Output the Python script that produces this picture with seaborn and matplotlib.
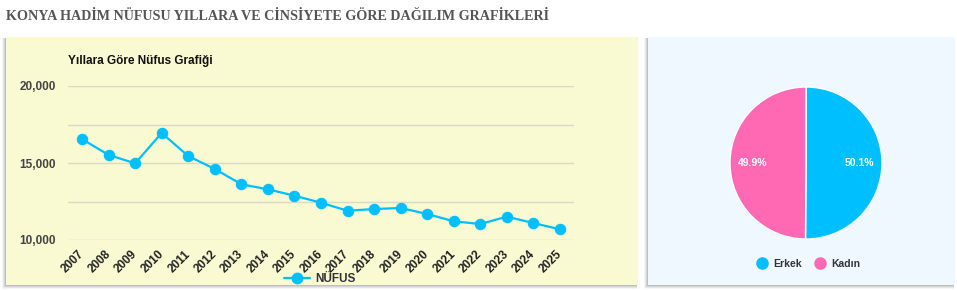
import matplotlib
matplotlib.use("Agg")
import matplotlib.pyplot as plt
import seaborn as sns
import pandas as pd
from matplotlib.patches import Rectangle
from matplotlib.lines import Line2D

years = [2007, 2008, 2009, 2010, 2011, 2012, 2013, 2014, 2015, 2016,
         2017, 2018, 2019, 2020, 2021, 2022, 2023, 2024, 2025]
population = [16550, 15520, 14980, 16950, 15450, 14610, 13620, 13290, 12880, 12420,
              11900, 12010, 12080, 11690, 11215, 11040, 11515, 11100, 10695]
gender_labels = ["Erkek", "Kadın"]
gender_share = [50.1, 49.9]
y_ticks = [10000, 15000, 20000]
y_grid = [10000, 12500, 15000, 17500, 20000]

LINE_C = "#00bfff"
PINK = "#ff69b4"
W, H = 957, 291

sns.set_theme(style="white")
plt.rcParams['font.family'] = ['Liberation Sans', 'DejaVu Sans']

fig = plt.figure(figsize=(W / 100, H / 100), dpi=100)
fig.patch.set_facecolor("white")

def px_rect(x0, y0, x1, y1):
    return (x0 / W, 1 - y1 / H, (x1 - x0) / W, (y1 - y0) / H)

def panel(x0, y0, x1, y1, color):
    for i, a in enumerate([0.10, 0.08, 0.06, 0.04]):
        l, b, w, h = px_rect(x0 - 1 - i, y0 + 1, x1 - 1, y1 + 1 + i)
        fig.patches.append(Rectangle((l, b), w, h, transform=fig.transFigure,
                                     facecolor="black", alpha=a, edgecolor="none", zorder=-3))
    l, b, w, h = px_rect(x0, y0, x1, y1)
    fig.patches.append(Rectangle((l, b), w, h, transform=fig.transFigure,
                                 facecolor=color, edgecolor="none", zorder=-2))

panel(6, 37, 638, 285, "#f9f9d2")
panel(648, 37, 955, 285, "#eff7ff")

fig.text(6 / W, 1 - 17 / H, "KONYA HADİM NÜFUSU YILLARA VE CİNSİYETE GÖRE DAĞILIM GRAFİKLERİ",
         family=['Liberation Serif', 'DejaVu Serif'], weight="bold", fontsize=10.2,
         color="#555555", va="center", ha="left")

# Line chart
ax = fig.add_axes(px_rect(68, 86, 574, 240))
ax.set_zorder(5)
ax.set_facecolor("none")
df = pd.DataFrame({"Yıl": years, "NÜFUS": population})
for g in y_grid:
    ax.axhline(g, color="#dadac6", lw=1, zorder=0)
sns.lineplot(data=df, x="Yıl", y="NÜFUS", ax=ax, color=LINE_C, lw=1.6,
             marker="o", markersize=7.5, markeredgecolor=LINE_C, zorder=3)
ax.set_xlim(2006.47, 2025.53)
ax.set_ylim(10000, 20000)
ax.set_yticks(y_ticks)
ax.set_yticklabels([f"{v:,}" for v in y_ticks], fontsize=8.5, weight="bold", color="#444444")
ax.set_xticks(years)
ax.set_xticklabels([str(y) for y in years], rotation=45, ha="right", va="center",
                   rotation_mode="anchor", fontsize=8.5, weight="bold", color="#222222")
ax.tick_params(axis="y", length=0, pad=9)
ax.tick_params(axis="x", length=0, pad=9)
ax.set_xlabel("")
ax.set_ylabel("")
for s in ax.spines.values():
    s.set_visible(False)
fig.text(68 / W, 1 - 61 / H, "Yıllara Göre Nüfus Grafiği", fontsize=8.5, weight="bold",
         color="#111111", va="center", ha="left")
handle = Line2D([], [], color=LINE_C, lw=1.6, marker="o", markersize=7.5)
fig.legend([handle], ["NÜFUS"], loc="center", bbox_to_anchor=(320 / W, 1 - 279 / H),
           frameon=False, prop={"weight": "bold", "size": 8.5}, handlelength=2.2,
           handletextpad=0.4, labelcolor="#333333")

# Pie chart
pax = fig.add_axes(px_rect(730, 87, 882, 239))
pax.set_zorder(5)
wedges, texts, autotexts = pax.pie(gender_share, colors=[LINE_C, PINK], startangle=90,
                                   counterclock=False, autopct="%.1f%%", pctdistance=0.7,
                                   wedgeprops={"edgecolor": "white", "linewidth": 1})
for t in autotexts:
    t.set_color("white")
    t.set_fontsize(7.5)
    t.set_weight("bold")
pax.set_xlim(-1.0, 1.0)
pax.set_ylim(-1.0, 1.0)
pax.set_aspect("equal")
leg_handles = [Line2D([], [], ls="none", marker="o", markersize=8, color=c) for c in [LINE_C, PINK]]
fig.legend(leg_handles, gender_labels, loc="center", bbox_to_anchor=(809 / W, 1 - 264 / H),
           ncol=2, frameon=False, prop={"weight": "bold", "size": 7.5}, handlelength=0.9,
           handletextpad=0.6, columnspacing=1.3, labelcolor="#333333")

fig.savefig("out.png", dpi=100)
